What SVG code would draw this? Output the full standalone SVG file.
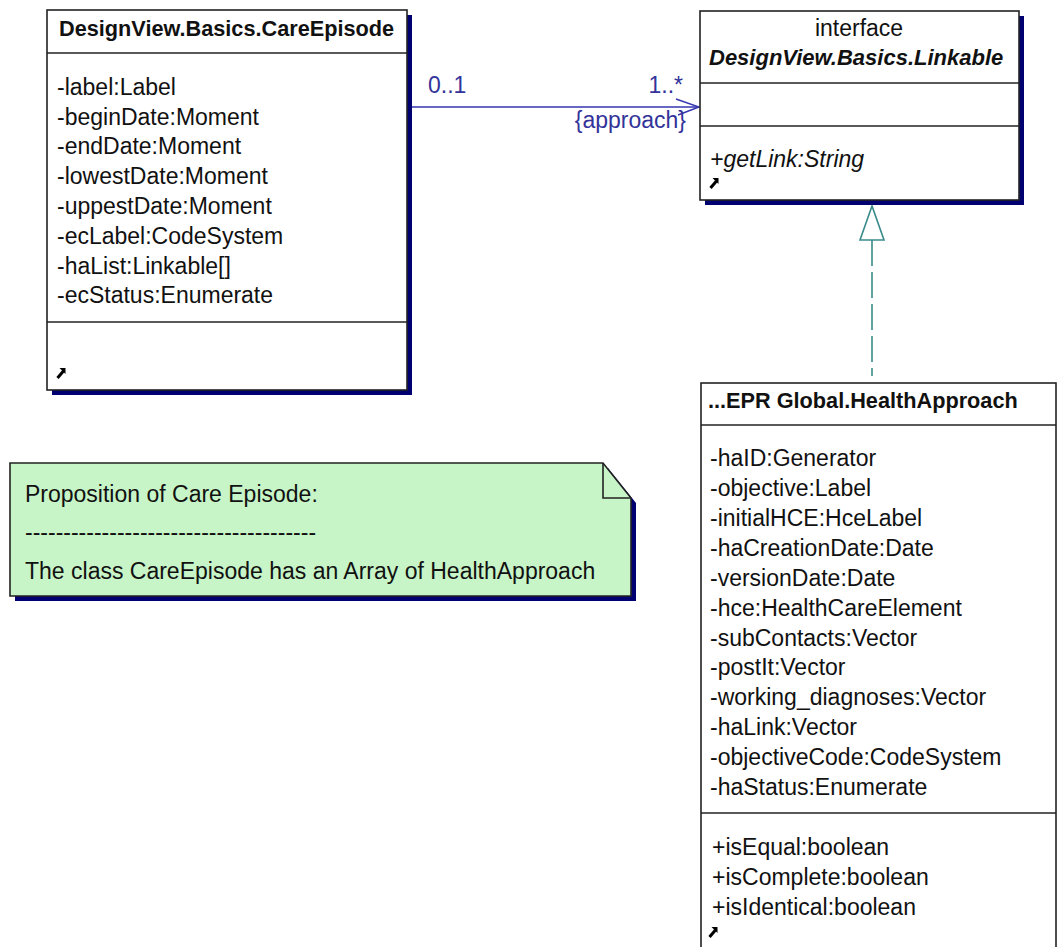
<svg xmlns="http://www.w3.org/2000/svg" width="1060" height="947" viewBox="0 0 1060 947">
<style>
text{font-family:"Liberation Sans",Arial,sans-serif;fill:#111}
.t{font-size:23px}
.h{font-size:21.7px;font-weight:bold}
.hi{font-size:22px;font-weight:bold;font-style:italic}
.it{font-size:23px;font-style:italic}
.box{fill:#fff;stroke:#222;stroke-width:1.6}
.div{stroke:#222;stroke-width:1.6}
.sh{fill:#000070}
.lbl{font-size:23px;fill:#33339a}
.cur{fill:#000}
</style>
<defs>
<g id="cursor"><path d="M3.5,0 L9.5,0 L9.5,6 Z" class="cur"/><path d="M1.5,10 L7.5,3" stroke="#000" stroke-width="3"/></g>
</defs>
<rect width="1060" height="947" fill="#fff"/>

<g id="connectors">
<line x1="408" y1="107" x2="699" y2="107" stroke="#3535b0" stroke-width="1.6"/>
<polyline points="676,99 699,107 678,115" fill="none" stroke="#3535b0" stroke-width="1.4"/>
<text class="lbl" x="428" y="93">0..1</text>
<text class="lbl" x="683" y="93" text-anchor="end">1..*</text>
<text class="lbl" x="686" y="128" text-anchor="end">{approach}</text>
<line x1="872" y1="240" x2="872" y2="376" stroke="#3a8a8a" stroke-width="1.6" stroke-dasharray="26,6"/>
<polygon points="872,206 860,240 884,240" fill="#fff" stroke="#3a8a8a" stroke-width="1.6"/>
</g>

<g id="care-episode">
<rect class="sh" x="52" y="15" width="360" height="380"/>
<rect class="box" x="47" y="10" width="360" height="380"/>
<line class="div" x1="47" y1="53" x2="407" y2="53"/>
<line class="div" x1="47" y1="322" x2="407" y2="322"/>
<text class="h" x="59" y="36">DesignView.Basics.CareEpisode</text>
<text class="t" x="57" y="95">-label:Label</text>
<text class="t" x="57" y="125">-beginDate:Moment</text>
<text class="t" x="57" y="154">-endDate:Moment</text>
<text class="t" x="57" y="184">-lowestDate:Moment</text>
<text class="t" x="57" y="214">-uppestDate:Moment</text>
<text class="t" x="57" y="244">-ecLabel:CodeSystem</text>
<text class="t" x="57" y="274">-haList:Linkable[]</text>
<text class="t" x="57" y="303">-ecStatus:Enumerate</text>
<use href="#cursor" x="56" y="368"/>
</g>

<g id="linkable">
<rect class="sh" x="705" y="16" width="319" height="189"/>
<rect class="box" x="700" y="11" width="319" height="189"/>
<line class="div" x1="700" y1="83" x2="1019" y2="83"/>
<line class="div" x1="700" y1="126" x2="1019" y2="126"/>
<text class="t" x="859" y="36" text-anchor="middle">interface</text>
<text class="hi" x="709" y="65">DesignView.Basics.Linkable</text>
<text class="it" x="710" y="167">+getLink:String</text>
<use href="#cursor" x="709" y="178"/>
</g>

<g id="health-approach">
<rect class="box" x="701" y="383" width="355" height="600"/>
<line class="div" x1="701" y1="425" x2="1056" y2="425"/>
<line class="div" x1="701" y1="813" x2="1056" y2="813"/>
<text class="h" x="708" y="408">...EPR Global.HealthApproach</text>
<text class="t" x="710" y="466">-haID:Generator</text>
<text class="t" x="710" y="496">-objective:Label</text>
<text class="t" x="710" y="526">-initialHCE:HceLabel</text>
<text class="t" x="710" y="556">-haCreationDate:Date</text>
<text class="t" x="710" y="586">-versionDate:Date</text>
<text class="t" x="710" y="616">-hce:HealthCareElement</text>
<text class="t" x="710" y="646">-subContacts:Vector</text>
<text class="t" x="710" y="675">-postIt:Vector</text>
<text class="t" x="710" y="705">-working_diagnoses:Vector</text>
<text class="t" x="710" y="735">-haLink:Vector</text>
<text class="t" x="710" y="765">-objectiveCode:CodeSystem</text>
<text class="t" x="710" y="795">-haStatus:Enumerate</text>
<text class="t" x="712" y="855">+isEqual:boolean</text>
<text class="t" x="712" y="885">+isComplete:boolean</text>
<text class="t" x="712" y="915">+isIdentical:boolean</text>
<use href="#cursor" x="708" y="927"/>
</g>

<g id="note">
<path class="sh" d="M15,468 L608,468 L636,503 L636,601 L15,601 Z"/>
<path d="M10,463 L603,463 L631,498 L631,596 L10,596 Z" fill="#c8f5c8" stroke="#222" stroke-width="1.6"/>
<path d="M603,463 L603,498 L631,498" fill="none" stroke="#222" stroke-width="1.6"/>
<text class="t" x="25" y="502">Proposition of Care Episode:</text>
<text class="t" x="25" y="540">--------------------------------------</text>
<text class="t" x="25" y="579">The class CareEpisode has an Array of HealthApproach</text>
</g>
</svg>
